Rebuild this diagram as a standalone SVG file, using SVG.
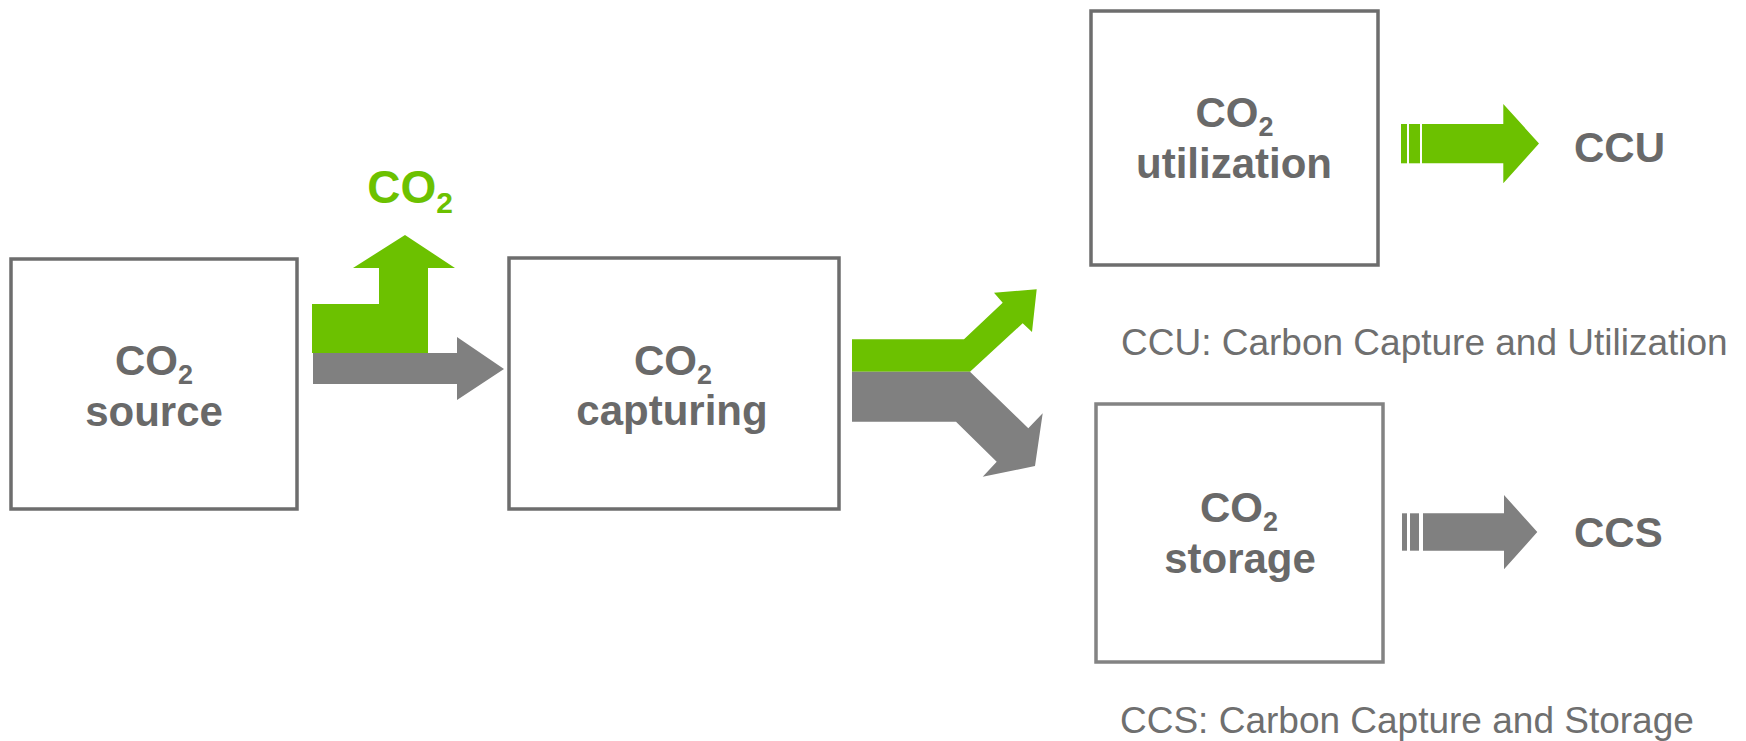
<svg xmlns="http://www.w3.org/2000/svg" width="1746" height="741" viewBox="0 0 1746 741">
<style>
.box{fill:#ffffff;stroke:#6d6d6d;stroke-width:3.5}
.box2{fill:#ffffff;stroke:#838383;stroke-width:3.5}
.t{font-family:"Liberation Sans",Arial,sans-serif;font-weight:bold;font-size:42px;fill:#696969;text-anchor:middle}
.lbl{font-family:"Liberation Sans",Arial,sans-serif;font-weight:bold;font-size:42px;fill:#696969}
.note{font-family:"Liberation Sans",Arial,sans-serif;font-size:37px;fill:#6f6f6f}
.g{fill:#6cc100}
.k{fill:#808080}
</style>
<rect width="1746" height="741" fill="#ffffff"/>
<g id="connectors">
  <polygon class="k" points="313,353 457,353 457,337 504,369 457,400 457,384 313,384"/>
  <polygon class="g" points="312,304 379,304 379,268 353,268 405,235 455,268 428,268 428,353 312,353"/>
  <polygon class="g" points="852,339.3 964,339.3 1002.7,302.7 994,292.7 1036.7,289.3 1032,332 1022.7,323.3 970,371.7 852,371.7"/>
  <polygon class="k" points="852,371.7 970,371.7 1028.3,428.3 1042.7,413.3 1035,466 982.7,476.7 996.7,461.7 956,421.7 852,421.7"/>
  <g class="g">
    <rect x="1401" y="124" width="6" height="39.3"/>
    <rect x="1409" y="124" width="11" height="39.3"/>
    <polygon points="1422,124 1503.3,124 1503.3,104 1539,143.5 1503.3,183.3 1503.3,163.3 1422,163.3"/>
  </g>
  <g class="k">
    <rect x="1402" y="513.3" width="5" height="37.4"/>
    <rect x="1410" y="513.3" width="9" height="37.4"/>
    <polygon points="1423,513.3 1504,513.3 1504,495 1537.3,532 1504,569.3 1504,550.7 1423,550.7"/>
  </g>
</g>
<g id="co2-emitted">
  <text x="410" y="203" class="t" style="font-size:46px;fill:#6cc100">CO<tspan style="font-size:30px" dy="10">2</tspan></text>
</g>
<g id="source">
  <rect class="box" x="11" y="259" width="286" height="250"/>
  <text x="154" y="375" class="t">CO<tspan style="font-size:27px" dy="9">2</tspan></text>
  <text x="154" y="426" class="t">source</text>
</g>
<g id="capturing">
  <rect class="box" x="509" y="258" width="330" height="251"/>
  <text x="673" y="375" class="t">CO<tspan style="font-size:27px" dy="9">2</tspan></text>
  <text x="672" y="425" class="t">capturing</text>
</g>
<g id="utilization">
  <rect class="box" x="1091" y="11" width="287" height="254"/>
  <text x="1234.5" y="127" class="t">CO<tspan style="font-size:27px" dy="9">2</tspan></text>
  <text x="1234" y="178" class="t">utilization</text>
</g>
<g id="storage">
  <rect class="box2" x="1096" y="404" width="287" height="258"/>
  <text x="1239" y="522" class="t">CO<tspan style="font-size:27px" dy="9">2</tspan></text>
  <text x="1240" y="573" class="t">storage</text>
</g>
<g id="ccu">
  <text x="1574" y="162" class="lbl">CCU</text>
</g>
<g id="ccs">
  <text x="1574" y="547" class="lbl">CCS</text>
</g>
<g id="notes">
  <text x="1121" y="355" class="note">CCU: Carbon Capture and Utilization</text>
  <text x="1120" y="733" class="note">CCS: Carbon Capture and Storage</text>
</g>
</svg>
